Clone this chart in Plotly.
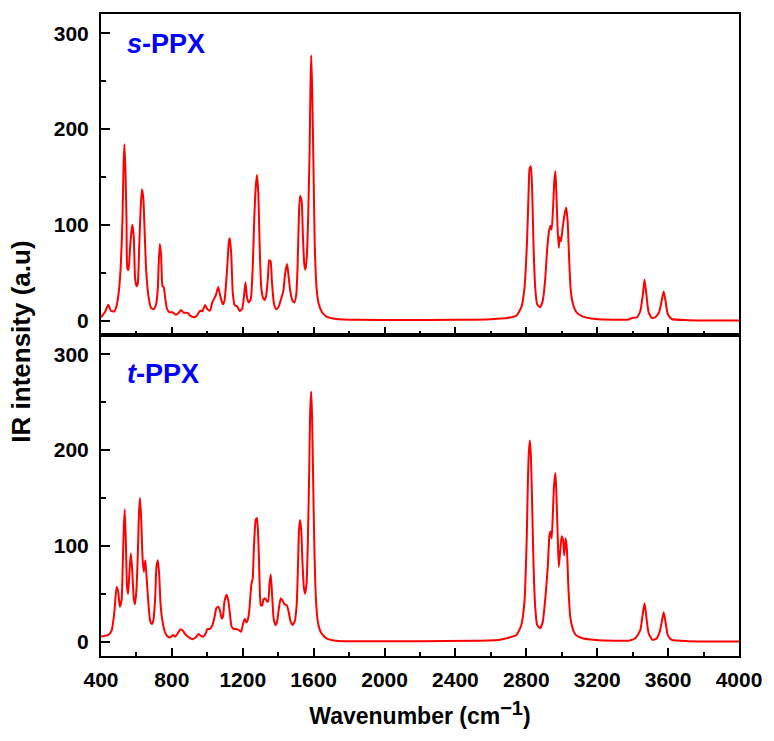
import plotly.graph_objects as go
from plotly.subplots import make_subplots

# s-PPX spectrum
s_wavenumber = [
    400, 422, 441, 456, 475, 488, 501, 512, 521, 527, 532, 538, 544, 549, 555,
    564, 572, 577, 585, 592, 600, 607, 616, 624, 631, 639, 646, 655, 669, 683,
    698, 711, 721, 726, 732, 739, 747, 754, 762, 773, 787, 804, 823, 836, 851,
    866, 889, 903, 922, 941, 959, 972, 987, 1000, 1015, 1028, 1047, 1062, 1075,
    1088, 1097, 1112, 1122, 1127, 1135, 1144, 1155, 1168, 1183, 1196, 1206,
    1215, 1224, 1233, 1245, 1256, 1265, 1273, 1280, 1288, 1295, 1304, 1314,
    1323, 1332, 1342, 1349, 1357, 1364, 1375, 1388, 1401, 1416, 1429, 1439,
    1450, 1457, 1468, 1480, 1491, 1502, 1509, 1517, 1523, 1532, 1539, 1547,
    1554, 1562, 1569, 1577, 1582, 1586, 1591, 1599, 1606, 1616, 1629, 1647,
    1672, 1728, 1850, 2100, 2400, 2600, 2700, 2744, 2772, 2790, 2804, 2813,
    2818, 2826, 2833, 2841, 2850, 2861, 2878, 2893, 2906, 2917, 2927, 2936,
    2943, 2951, 2958, 2964, 2969, 2977, 2983, 2988, 2996, 3005, 3016, 3025,
    3033, 3042, 3051, 3065, 3083, 3117, 3191, 3300, 3378, 3396, 3424, 3443,
    3458, 3467, 3477, 3490, 3508, 3527, 3549, 3564, 3575, 3585, 3598, 3620,
    3713, 4000,
]
s_intensity = [
    3.5, 8.7, 16.6, 10.4, 9.7, 15.6, 31, 59, 104, 160, 184, 156, 104, 54, 53,
    76, 94, 100, 87, 45, 36, 38, 80, 118, 137, 127, 94, 52, 24, 13,
    12, 17, 35, 62, 80, 69, 36, 35, 24, 12, 8.7, 8.7, 6.2, 7.6, 11,
    8.3, 8, 5.2, 3.5, 5.2, 10.4, 9.7, 16.3, 12, 10.4, 19, 26, 35, 24,
    17, 21, 55, 83, 86, 69, 28, 16, 15, 10, 12, 24,
    40, 24, 19, 22.5, 55, 107, 139, 152, 132, 80, 35, 24,
    21.5, 26, 45, 63, 62, 42, 19, 12, 14, 22.5, 31, 49,
    59, 49, 31, 21, 19, 28, 55, 111, 130, 125, 90, 59,
    53, 69, 108, 177, 246, 277, 246, 160, 80, 35, 17, 8.7,
    4.2, 1.7, 0.8, 0.6, 0.8, 1.5, 3, 5.2, 14, 35, 83, 135,
    158, 161, 135, 76, 35, 17, 14, 21, 42, 73, 92, 99,
    95, 118, 146, 156, 135, 94, 76, 87, 83, 97, 111, 118,
    104, 62, 31, 16, 8.7, 4.5, 1.7, 1, 1.2, 2.8, 3.5, 10,
    28, 43, 28, 8.7, 2.8, 3.5, 8.7, 21, 30.5, 21, 7, 1.7,
    0.5, 0.2,
]

# t-PPX spectrum
t_wavenumber = [
    400, 422, 441, 460, 475, 488, 497, 506, 516, 523, 529, 534, 540, 547, 553,
    560, 568, 575, 585, 592, 600, 609, 614, 620, 627, 635, 642, 650, 657, 669,
    678, 687, 696, 706, 713, 721, 728, 737, 749, 762, 777, 792, 805, 818, 833,
    848, 861, 879, 898, 917, 935, 950, 963, 978, 991, 1000, 1015, 1028, 1041,
    1051, 1062, 1071, 1081, 1088, 1097, 1109, 1118, 1127, 1137, 1150, 1163,
    1178, 1191, 1202, 1211, 1220, 1228, 1237, 1248, 1256, 1263, 1273, 1280,
    1288, 1295, 1302, 1310, 1317, 1327, 1336, 1343, 1351, 1358, 1366, 1375,
    1385, 1394, 1405, 1414, 1424, 1435, 1448, 1459, 1470, 1481, 1493, 1504,
    1511, 1517, 1523, 1530, 1537, 1545, 1552, 1560, 1567, 1575, 1580, 1586,
    1591, 1597, 1605, 1614, 1625, 1644, 1672, 1737, 1900, 2200, 2500, 2650,
    2744, 2772, 2790, 2802, 2809, 2815, 2820, 2826, 2833, 2841, 2850, 2861,
    2878, 2893, 2908, 2921, 2930, 2936, 2943, 2949, 2956, 2964, 2969, 2977,
    2983, 2990, 2999, 3007, 3014, 3022, 3029, 3038, 3048, 3061, 3079, 3117,
    3191, 3300, 3378, 3415, 3443, 3456, 3467, 3477, 3490, 3512, 3536, 3555,
    3566, 3575, 3585, 3598, 3620, 3713, 4000,
]
t_intensity = [
    5.2, 6, 7, 11.5, 30, 57, 52, 36.5, 43, 82, 120, 138, 106, 57, 50,
    71, 92, 78, 45, 39, 54, 99, 134, 150, 127, 85, 73, 85, 68, 36.5,
    21, 18.4, 22.6, 47, 78, 85, 71, 36.5, 19, 9.4, 5.2, 4.5, 7, 5.2, 8.7,
    13, 11.5, 7, 4.2, 2.5, 4.5, 8, 6, 5.2, 8.7, 13, 13.2, 17, 26,
    35, 36.5, 33, 24, 26, 42, 49, 43, 30, 15.6, 13.2, 13.2,
    12, 10.4, 19, 24, 20, 22.6, 33, 59, 66, 99, 127, 129,
    106, 61, 38, 38, 44, 45, 42, 42, 61, 70, 47, 23,
    17.4, 21, 36.5, 45, 43, 39, 38, 31, 21, 17.4, 21, 38,
    75, 116, 127, 116, 82, 56, 50, 61, 103, 179, 238, 261,
    235, 169, 89, 40, 19, 8.7, 3.5, 0.7, 0.5, 0.5, 0.8, 2,
    7, 17.4, 43, 106, 169, 200, 210, 193, 141, 78, 36.5, 17.4,
    14, 21, 47, 78, 110, 115, 108, 130, 162, 176, 158, 110,
    78, 92, 110, 106, 90, 108, 96, 54, 26, 14, 7, 3.5,
    1.7, 1, 1, 3.5, 12, 28, 40, 26, 8.7, 1.8, 3.5, 12,
    22.6, 30.6, 21, 7, 1.8, 0.5, 0.2,
]

x_ticks = [400, 800, 1200, 1600, 2000, 2400, 2800, 3200, 3600, 4000]
y_ticks = [0, 100, 200, 300]

FONT = "Liberation Sans, Arial, sans-serif"

fig = make_subplots(rows=2, cols=1, shared_xaxes=True, vertical_spacing=0)

for row, (xs, ys) in enumerate([(s_wavenumber, s_intensity),
                                (t_wavenumber, t_intensity)], start=1):
    fig.add_trace(
        go.Scatter(
            x=xs, y=ys, mode="lines",
            line={"color": "#FF0000", "width": 2, "shape": "spline",
                  "smoothing": 0.5},
            showlegend=False,
        ),
        row=row, col=1,
    )

axis_common = dict(
    showline=True, linewidth=2, linecolor="black", mirror=True,
    showgrid=False, zeroline=False,
    ticks="inside", tickwidth=2, tickcolor="black",
    tickfont={"family": FONT, "size": 21, "color": "black", "weight": "bold"},
)

fig.update_xaxes(
    range=[400, 4000], tickvals=x_ticks, ticklen=8,
    minor={"ticks": "inside", "dtick": 200, "tick0": 400, "ticklen": 4,
           "tickwidth": 2, "tickcolor": "black"},
    **axis_common,
)
fig.update_xaxes(showticklabels=False, row=1, col=1)
fig.update_xaxes(
    showticklabels=True, ticklabelstandoff=4,
    title={"text": "Wavenumber (cm<sup><span style='font-size:20px'>−1</span></sup>)",
           "standoff": 18,
           "font": {"family": FONT, "size": 23, "color": "black",
                    "weight": "bold"}},
    row=2, col=1,
)
fig.update_yaxes(
    range=[-15, 320], tickvals=y_ticks, ticklen=9, ticklabelstandoff=6,
    minor={"ticks": "inside", "dtick": 50, "tick0": 0, "ticklen": 5,
           "tickwidth": 2, "tickcolor": "black"},
    **axis_common,
)

fig.add_annotation(
    text="<i>s</i>-PPX", xref="paper", yref="paper", x=0.037, y=0.953,
    xanchor="left", yanchor="middle", showarrow=False,
    font={"family": FONT, "size": 27, "color": "#0000FF", "weight": "bold"},
)
fig.add_annotation(
    text="<i>t</i>-PPX", xref="paper", yref="paper", x=0.037, y=0.44,
    xanchor="left", yanchor="middle", showarrow=False,
    font={"family": FONT, "size": 27, "color": "#0000FF", "weight": "bold"},
)
fig.add_annotation(
    text="IR intensity (a.u)", xref="paper", yref="paper", x=-0.125, y=0.49,
    xanchor="center", yanchor="middle", textangle=-90, showarrow=False,
    font={"family": FONT, "size": 26, "color": "black", "weight": "bold"},
)

fig.update_layout(
    width=774, height=741,
    margin={"l": 101, "r": 25, "t": 12, "b": 85},
    plot_bgcolor="white", paper_bgcolor="white",
)

fig.write_html(
    "out.html",
    config={"displayModeBar": False},
    post_script="document.body.style.margin='0';"
                "document.body.style.overflow='hidden';",
)
